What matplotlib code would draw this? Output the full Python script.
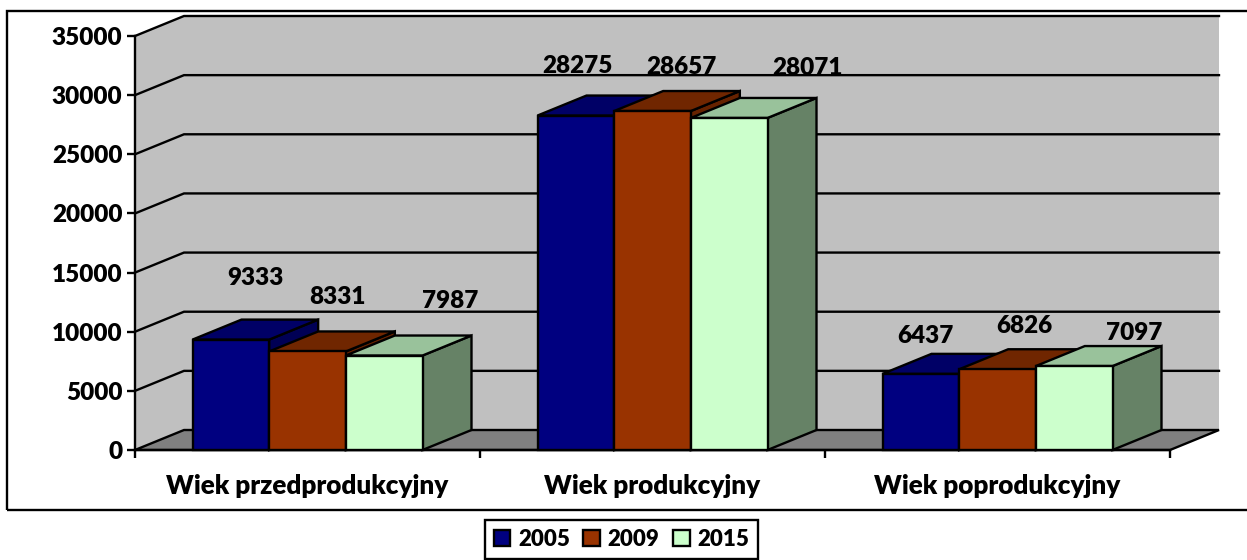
import matplotlib

matplotlib.use("Agg")
import matplotlib.pyplot as plt
from matplotlib.patches import Patch, Polygon, Rectangle

categories = ["Wiek przedprodukcyjny", "Wiek produkcyjny", "Wiek poprodukcyjny"]
years = ["2005", "2009", "2015"]
values_2005 = [9333, 28275, 6437]
values_2009 = [8331, 28657, 6826]
values_2015 = [7987, 28071, 7097]
y_ticks = [0, 5000, 10000, 15000, 20000, 25000, 30000, 35000]

front_colors = ["#000080", "#993300", "#CCFFCC"]
top_colors = ["#000066", "#702600", "#99C29B"]
side_colors = ["#000055", "#662200", "#668266"]

# etiquetas colocadas a mano en el original: desplazamiento en px desde
# el centro superior de cada barra, por serie y categoria
label_offsets = [
    [(25, 62), (2, 50), (5, 38)],
    [(30, 54), (29, 44), (27, 43)],
    [(66, 55), (78, 50), (60, 33)],
]

W, H = 1247, 560
LEFT, RIGHT, Y0, Y_TOP = 135, 1170, 450, 36
DEPTH_PX, RISE_PX = 49, 20
LW = 1.7
FONT = "Lato"
WEIGHT = "heavy"
FS = 17.5
FS_CAT = 18.8
FS_LEG = 16

plt.rcParams["font.family"] = FONT
plt.rcParams["font.weight"] = WEIGHT

fig = plt.figure(figsize=(W / 100, H / 100), dpi=100, facecolor="white")
ax = fig.add_axes([LEFT / W, 1 - Y0 / H, (RIGHT - LEFT) / W, (Y0 - Y_TOP) / H])
ax.set_xlim(0, 3)
ax.set_ylim(0, 35000)
ax.patch.set_visible(False)

dx = DEPTH_PX * 3 / (RIGHT - LEFT)
dy = RISE_PX * 35000 / (Y0 - Y_TOP)


def poly(pts, face, zorder, edge="black", lw=LW):
    p = Polygon(pts, closed=True, facecolor=face, edgecolor=edge, linewidth=lw,
                clip_on=False, zorder=zorder, joinstyle="miter")
    ax.add_patch(p)


# paredes y suelo
ymax = y_ticks[-1]
poly([(dx, dy), (3 + dx, dy), (3 + dx, ymax + dy), (dx, ymax + dy)], "#C0C0C0", 1, edge="none")
poly([(0, 0), (dx, dy), (dx, ymax + dy), (0, ymax)], "#C0C0C0", 1, edge="none")
poly([(0, 0), (3, 0), (3 + dx, dy), (dx, dy)], "#808080", 1.5)

for t in y_ticks[1:]:
    ax.plot([0, dx, 3 + dx], [t, t + dy, t + dy], color="black", lw=LW,
            clip_on=False, zorder=2, solid_joinstyle="miter")

# barras
series = [values_2005, values_2009, values_2015]
bar_w = 1 / 4.5
z = 3
for c in range(len(categories)):
    for s, vals in enumerate(series):
        x0 = c + 0.75 * bar_w + s * bar_w
        x1 = x0 + bar_w
        v = vals[c]
        poly([(x1, 0), (x1 + dx, dy), (x1 + dx, v + dy), (x1, v)], side_colors[s], z)
        poly([(x0, v), (x1, v), (x1 + dx, v + dy), (x0 + dx, v + dy)], top_colors[s], z)
        poly([(x0, 0), (x1, 0), (x1, v), (x0, v)], front_colors[s], z)
        z += 0.1
        ax.annotate(str(v), xy=((x0 + x1) / 2, v), xytext=label_offsets[s][c],
                    textcoords="offset pixels", ha="center", va="center",
                    fontsize=FS, color="black", zorder=20,
                    annotation_clip=False)

# ejes
for side in ["top", "right"]:
    ax.spines[side].set_visible(False)
for side in ["left", "bottom"]:
    ax.spines[side].set_linewidth(LW)
    ax.spines[side].set_zorder(2.5)

ax.set_yticks(y_ticks)
ax.set_yticklabels([str(t) for t in y_ticks], fontsize=FS)
ax.set_xticks(range(len(categories) + 1))
ax.set_xticklabels([])
ax.set_xticks([i + 0.5 for i in range(len(categories))], labels=categories, minor=True)
ax.tick_params(axis="y", length=6, width=LW, pad=3)
ax.tick_params(axis="x", which="major", length=6, width=LW)
ax.tick_params(axis="x", which="minor", length=0, pad=17, labelsize=FS_CAT)

# marco exterior del grafico
fig.add_artist(Rectangle((7 / W, 1 - 510 / H), (W + 10 - 7) / W, (510 - 11) / H,
                         transform=fig.transFigure, fill=False, edgecolor="black",
                         linewidth=LW, clip_on=True))

handles = [Patch(facecolor=col, edgecolor="black", linewidth=LW) for col in front_colors]
leg = fig.legend(handles, years, ncol=3, loc="center", bbox_to_anchor=(621.5 / W, 1 - 539.5 / H),
                 frameon=True, fancybox=False, edgecolor="black", framealpha=1,
                 prop={"family": FONT, "weight": WEIGHT, "size": FS_LEG},
                 handlelength=0.75, handleheight=0.75, handletextpad=0.35,
                 columnspacing=0.6, borderpad=0.4, borderaxespad=0)
leg.get_frame().set_linewidth(LW)

fig.savefig("out.png", dpi=100)
